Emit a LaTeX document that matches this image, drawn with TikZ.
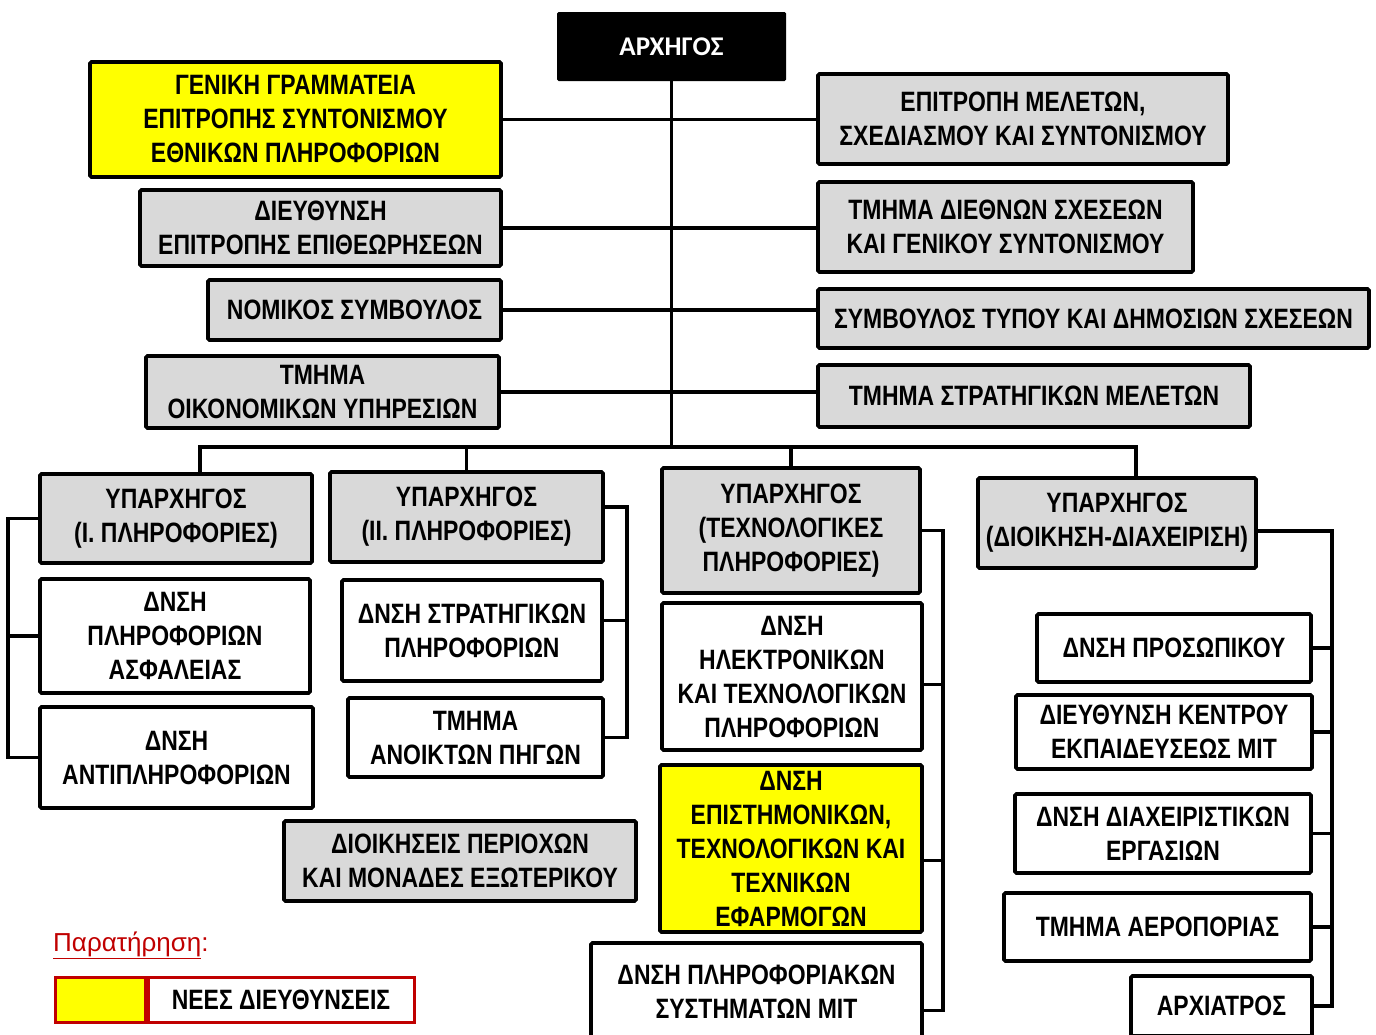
\documentclass[tikz,border=0pt]{standalone}
\usepackage{fontspec}
\newfontfamily\orgfont[FakeStretch=0.82]{Liberation Sans}
\newfontfamily\headfont{Carlito}
\newfontfamily\notefont{Liberation Sans}
\usepackage{xcolor}
\usetikzlibrary{positioning,calc}
\definecolor{boxgray}{HTML}{D9D9D9}
\definecolor{newyellow}{HTML}{FFFF00}
\definecolor{notered}{HTML}{C00000}
\tikzset{
  unit/.style={draw=black, line width=3.8pt, rounded corners=1.5pt, inner sep=0pt, align=center,
    font=\orgfont\bfseries\fontsize{28}{34}\selectfont},
  graybox/.style={unit, fill=boxgray},
  whitebox/.style={unit, fill=white},
  yellowbox/.style={unit, fill=newyellow},
  boxsize/.style 2 args={minimum width=#1pt, minimum height=#2pt},
  link/.style={line width=3.8pt},
}

\begin{document}
\begin{tikzpicture}[x=1pt, y=-1pt]
    \useasboundingbox (0,0) rectangle (1376,1034);
    % chief
    \node[fill=black, rounded corners=1.5pt, inner sep=0pt, boxsize={229}{69}, text=white,
      font=\headfont\bfseries\fontsize{27}{34}\selectfont] (chief) at (671.5,46.5) {ΑΡΧΗΓΟΣ};
    % staff, left
    \node[yellowbox, boxsize={411}{115}] (gensec) at (295.5,119.5) {ΓΕΝΙΚΗ ΓΡΑΜΜΑΤΕΙΑ\\ΕΠΙΤΡΟΠΗΣ ΣΥΝΤΟΝΙΣΜΟΥ\\ΕΘΝΙΚΩΝ ΠΛΗΡΟΦΟΡΙΩΝ};
    \node[graybox, boxsize={361}{76}] (inspect) at (320.5,228) {ΔΙΕΥΘΥΝΣΗ\\ΕΠΙΤΡΟΠΗΣ ΕΠΙΘΕΩΡΗΣΕΩΝ};
    \node[graybox, boxsize={293}{60}] (legal) at (354.5,310) {ΝΟΜΙΚΟΣ ΣΥΜΒΟΥΛΟΣ};
    \node[graybox, boxsize={353}{72}] (finance) at (322.5,392) {ΤΜΗΜΑ\\ΟΙΚΟΝΟΜΙΚΩΝ ΥΠΗΡΕΣΙΩΝ};
    % staff, right
    \node[graybox, boxsize={410}{90}] (studies) at (1023,119) {ΕΠΙΤΡΟΠΗ ΜΕΛΕΤΩΝ,\\ΣΧΕΔΙΑΣΜΟΥ ΚΑΙ ΣΥΝΤΟΝΙΣΜΟΥ};
    \node[graybox, boxsize={375}{90}] (intl) at (1005.5,227) {ΤΜΗΜΑ ΔΙΕΘΝΩΝ ΣΧΕΣΕΩΝ\\ΚΑΙ ΓΕΝΙΚΟΥ ΣΥΝΤΟΝΙΣΜΟΥ};
    \node[graybox, boxsize={551}{59}] (press) at (1093.5,318.5) {ΣΥΜΒΟΥΛΟΣ ΤΥΠΟΥ ΚΑΙ ΔΗΜΟΣΙΩΝ ΣΧΕΣΕΩΝ};
    \node[graybox, boxsize={432}{62}] (strat) at (1034,396) {ΤΜΗΜΑ ΣΤΡΑΤΗΓΙΚΩΝ ΜΕΛΕΤΩΝ};
    % deputies
    \node[graybox, boxsize={272}{89}] (dep1) at (176,518.5) {ΥΠΑΡΧΗΓΟΣ\\(Ι. ΠΛΗΡΟΦΟΡΙΕΣ)};
    \node[graybox, boxsize={273}{90}] (dep2) at (466.5,517) {ΥΠΑΡΧΗΓΟΣ\\(ΙΙ. ΠΛΗΡΟΦΟΡΙΕΣ)};
    \node[graybox, boxsize={258}{125}] (dep3) at (791,530.5) {ΥΠΑΡΧΗΓΟΣ\\(ΤΕΧΝΟΛΟΓΙΚΕΣ\\ΠΛΗΡΟΦΟΡΙΕΣ)};
    \node[graybox, boxsize={278}{90}] (dep4) at (1117,523) {ΥΠΑΡΧΗΓΟΣ\\(ΔΙΟΙΚΗΣΗ-ΔΙΑΧΕΙΡΙΣΗ)};
    % directorates
    \node[whitebox, boxsize={270}{114}] (c11) at (175,636) {ΔΝΣΗ\\ΠΛΗΡΟΦΟΡΙΩΝ\\ΑΣΦΑΛΕΙΑΣ};
    \node[whitebox, boxsize={273}{101}] (c12) at (176.5,757.5) {ΔΝΣΗ\\ΑΝΤΙΠΛΗΡΟΦΟΡΙΩΝ};
    \node[whitebox, boxsize={260}{101}] (c21) at (472,630.5) {ΔΝΣΗ ΣΤΡΑΤΗΓΙΚΩΝ\\ΠΛΗΡΟΦΟΡΙΩΝ};
    \node[whitebox, boxsize={255}{79}] (c22) at (475.5,737.5) {ΤΜΗΜΑ\\ΑΝΟΙΚΤΩΝ ΠΗΓΩΝ};
    \node[graybox, boxsize={352}{80}] (regions) at (460,861) {ΔΙΟΙΚΗΣΕΙΣ ΠΕΡΙΟΧΩΝ\\ΚΑΙ ΜΟΝΑΔΕΣ ΕΞΩΤΕΡΙΚΟΥ};
    \node[whitebox, boxsize={260}{147}] (c31) at (792,676.5) {ΔΝΣΗ\\ΗΛΕΚΤΡΟΝΙΚΩΝ\\ΚΑΙ ΤΕΧΝΟΛΟΓΙΚΩΝ\\ΠΛΗΡΟΦΟΡΙΩΝ};
    \node[yellowbox, boxsize={262}{167}] (c32) at (791,848.5) {ΔΝΣΗ\\ΕΠΙΣΤΗΜΟΝΙΚΩΝ,\\ΤΕΧΝΟΛΟΓΙΚΩΝ ΚΑΙ\\ΤΕΧΝΙΚΩΝ\\ΕΦΑΡΜΟΓΩΝ};
    \node[whitebox, boxsize={331}{97}] (c33) at (756.5,991.5) {ΔΝΣΗ ΠΛΗΡΟΦΟΡΙΑΚΩΝ\\ΣΥΣΤΗΜΑΤΩΝ ΜΙΤ};
    \node[whitebox, boxsize={274}{68}] (c41) at (1174,648) {ΔΝΣΗ ΠΡΟΣΩΠΙΚΟΥ};
    \node[whitebox, boxsize={296}{74}] (c42) at (1164,732) {ΔΙΕΥΘΥΝΣΗ ΚΕΝΤΡΟΥ\\ΕΚΠΑΙΔΕΥΣΕΩΣ ΜΙΤ};
    \node[whitebox, boxsize={296}{79}] (c43) at (1163,833.5) {ΔΝΣΗ ΔΙΑΧΕΙΡΙΣΤΙΚΩΝ\\ΕΡΓΑΣΙΩΝ};
    \node[whitebox, boxsize={307}{68}] (c44) at (1157.5,927) {ΤΜΗΜΑ ΑΕΡΟΠΟΡΙΑΣ};
    \node[whitebox, boxsize={181}{60}] (c45) at (1221.5,1006) {ΑΡΧΙΑΤΡΟΣ};
    % main line and bus
    \coordinate (bus) at (670,447);
    \draw[link] (chief.south) -- (chief.south |- bus);
    \draw[link] ([xshift=24pt]dep1.north) |- (bus) -| ([xshift=19pt]dep4.north);
    \draw[link] (dep2.north) -- (dep2.north |- bus);
    \draw[link] (dep3.north) -- (dep3.north |- bus);
    % staff links
    \draw[link] (gensec.east) -- (gensec.east -| studies.west);
    \draw[link] (inspect.east) -- (inspect.east -| intl.west);
    \draw[link] (legal.east) -- (legal.east -| press.west);
    \draw[link] (finance.east) -- (finance.east -| strat.west);
    % brackets
    \draw[link] (dep1.west) -- ++(-30,0) coordinate (b1) |- (c12.west);
    \draw[link] (c11.west) -- (c11.west -| b1);
    \draw[link] ([yshift=10pt]dep2.east) -- ++(22,0) |- (c22.east);
    \draw[link] ([yshift=10pt]c21.east) -- ++(23,0);
    \draw[link] (dep3.east) -- ++(21,0) |- ([yshift=-19pt]c33.east);
    \draw[link] ([yshift=-8pt]c31.east) -- ++(19,0);
    \draw[link] ([yshift=-12pt]c32.east) -- ++(19,0);
    \draw[link] ([yshift=-8pt]dep4.east) -- ++(74,0) coordinate (b4) |- (c45.east);
    \draw[link] (c41.east) -- (c41.east -| b4);
    \draw[link] (c42.east) -- (c42.east -| b4);
    \draw[link] (c43.east) -- (c43.east -| b4);
    \draw[link] (c44.east) -- (c44.east -| b4);
    % legend
    \node[anchor=west, inner sep=0pt, text=notered, font=\notefont\fontsize{26}{30}\selectfont] (remark) at (53,945) {\underline{Παρατήρηση}:};
    \node[draw=notered, line width=3pt, fill=newyellow, inner sep=0pt, boxsize={90}{45}] (legcell) at (100,999.5) {};
    \node[draw=notered, line width=3pt, fill=white, inner sep=0pt, boxsize={266}{45},
      font=\orgfont\bfseries\fontsize{28}{34}\selectfont, right=0pt of legcell] (legtext) {ΝΕΕΣ ΔΙΕΥΘΥΝΣΕΙΣ};
\end{tikzpicture}
\end{document}
